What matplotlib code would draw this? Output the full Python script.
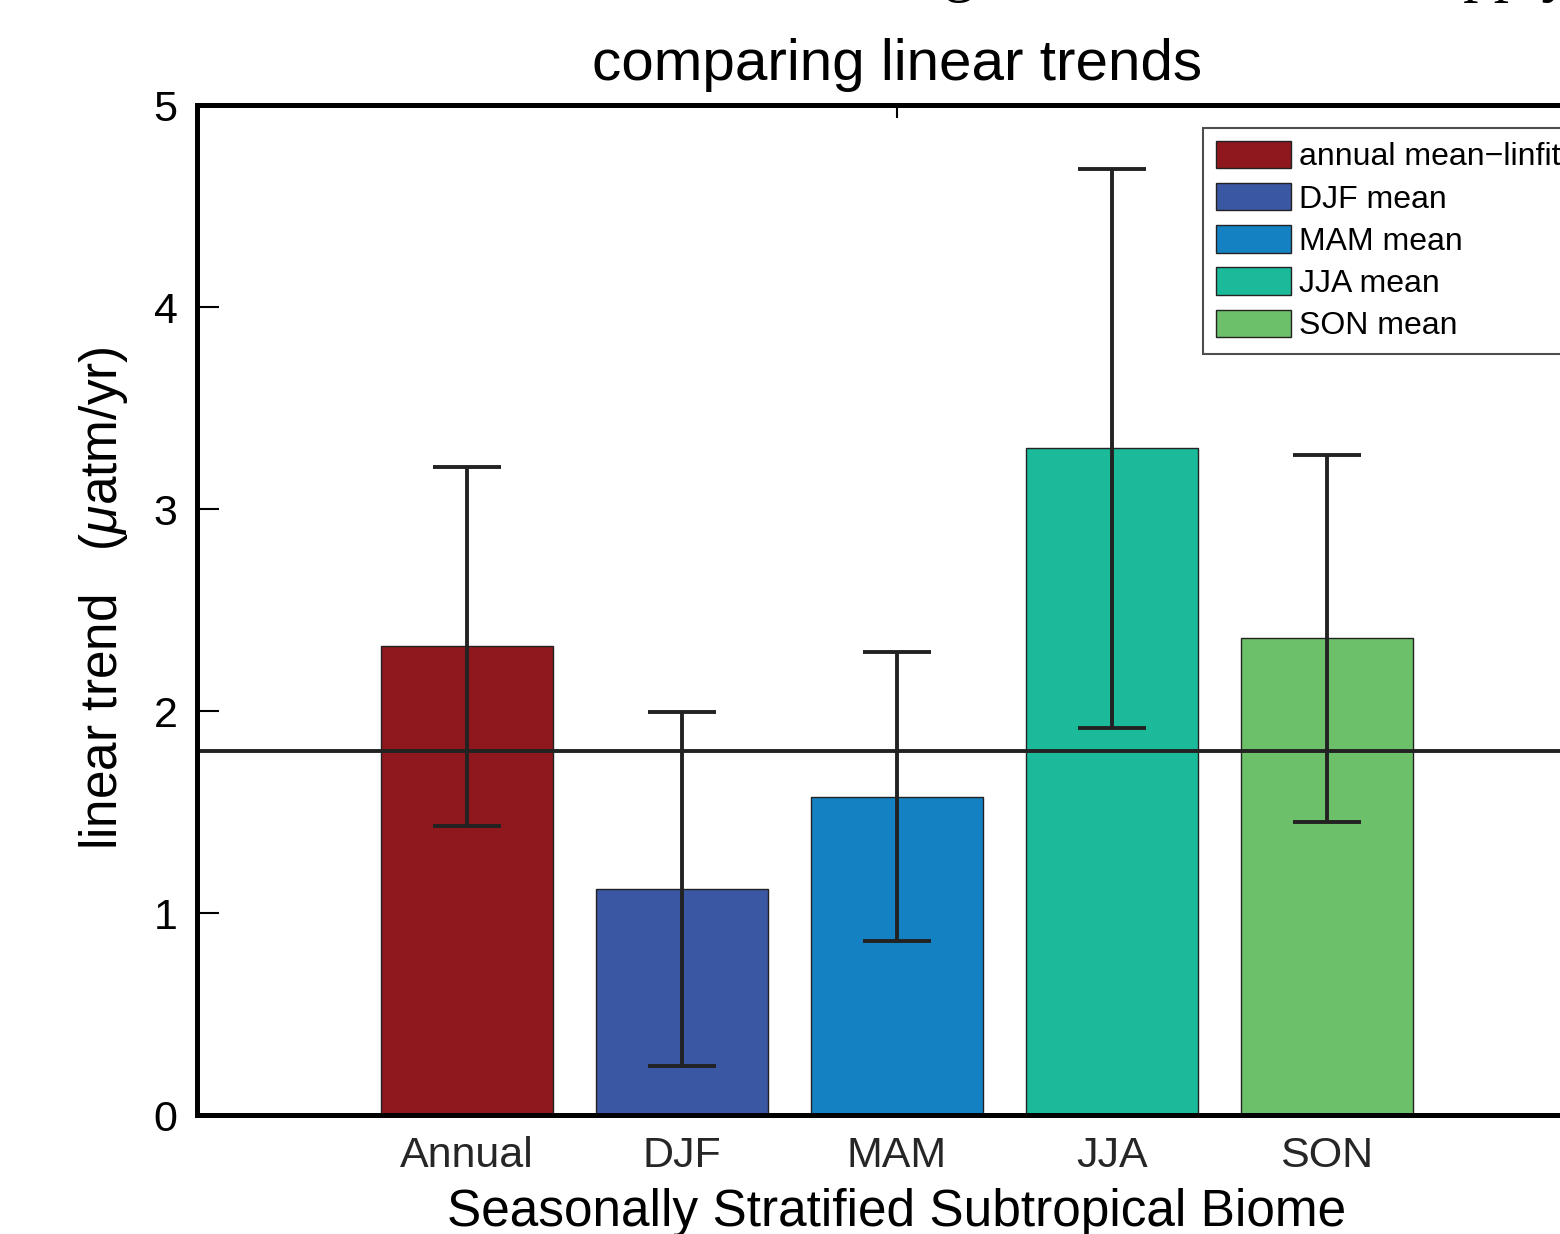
import numpy as np
import matplotlib
matplotlib.use("Agg")
import matplotlib.pyplot as plt

plt.rcParams["font.family"] = ["Liberation Sans", "DejaVu Sans"]
plt.rcParams["mathtext.fontset"] = "custom"
plt.rcParams["mathtext.it"] = "Liberation Sans:italic"
plt.rcParams["mathtext.rm"] = "Liberation Sans"

# data
categories = ["Annual", "DJF", "MAM", "JJA", "SON"]
legend_labels = ["annual mean\u2212linfit", "DJF mean", "MAM mean", "JJA mean", "SON mean"]
trend = [2.32, 1.12, 1.575, 3.30, 2.36]
trend_err = [0.89, 0.876, 0.715, 1.385, 0.907]
reference_trend = 1.8
bar_colors = ["#8E181E", "#3A57A3", "#1482C2", "#1BBA9A", "#6DC06A"]

x = np.arange(1, len(categories) + 1)

fig = plt.figure(figsize=(15.6, 12.34), dpi=100)
ax = fig.add_axes([0.1263, 0.0964, 0.8974, 0.8185])

for xi, val, col, lab in zip(x, trend, bar_colors, legend_labels):
    ax.bar(xi, val, width=0.8, color=col, edgecolor="#222222", linewidth=1.0,
           label=lab, zorder=1)

ax.errorbar(x, trend, yerr=trend_err, fmt="none", ecolor="#222222",
            elinewidth=2.8, capsize=24.5, capthick=2.8, zorder=3)
ax.axhline(reference_trend, color="#222222", linewidth=2.8, zorder=2)

ax.set_xlim(-0.256, 6.256)
ax.set_ylim(0, 5)
ax.set_axisbelow(True)

# one tick mark in the middle, category labels at the bars
ax.xaxis.remove_overlapping_locs = False
ax.set_xticks([3], [""])
ax.set_xticks(x, labels=categories, minor=True)
ax.tick_params(axis="x", which="major", direction="in", top=True, bottom=True,
               length=9, width=1.5)
ax.tick_params(axis="x", which="minor", length=0, pad=15, labelsize=31,
               labelcolor="#262626")
ax.set_yticks(range(6))
ax.tick_params(axis="y", direction="in", length=16, width=1.5, pad=14,
               labelsize=31)

for s in ax.spines.values():
    s.set_linewidth(3.6)

ax.set_title("comparing linear trends", fontsize=42, pad=18)
ax.set_xlabel("Seasonally Stratified Subtropical Biome", fontsize=37, labelpad=9)
ax.set_ylabel(r"linear trend   ($\mu$atm/yr)", fontsize=37)
ax.yaxis.set_label_coords(-0.048, 0.512)

leg = ax.legend(loc="upper left", bbox_to_anchor=(1203 / 1560, 1 - 128 / 1234),
                bbox_transform=fig.transFigure, fontsize=23, frameon=True,
                fancybox=False, edgecolor="#222222", handlelength=2.35,
                handleheight=0.94, handletextpad=0.25, labelspacing=0.33,
                borderpad=0.4, borderaxespad=0)
leg.get_frame().set_linewidth(1.5)

# top line of the page, mostly cut off
fig.text(398 / 1560, 1.008, "Trends in seasonal range and the relative supply",
         fontsize=44, family=["Liberation Serif", "DejaVu Serif"],
         ha="left", va="baseline")

fig.savefig("out.png", dpi=100)
